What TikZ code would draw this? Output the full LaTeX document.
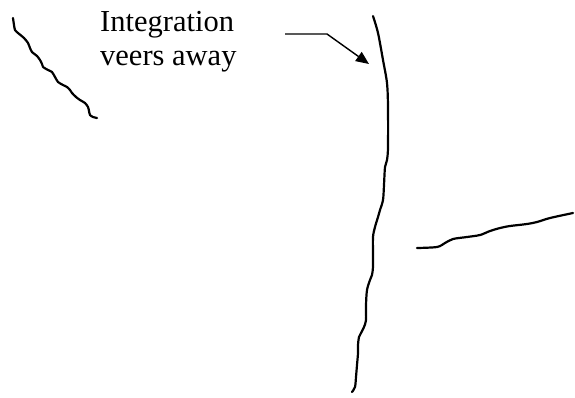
\documentclass[tikz,border=0pt]{standalone}
\usepackage{fontspec}
\setmainfont{Liberation Serif}
\usetikzlibrary{arrows.meta}
\begin{document}
\begin{tikzpicture}[x=1pt,y=-1pt,
  trace/.style={line width=2.2pt,line cap=round,line join=round},
  pointer/.style={line width=1.4pt,-{Triangle[length=13pt,width=11pt]}},
  caption/.style={font=\fontsize{30.5}{34}\selectfont,align=left,inner sep=0pt,anchor=north west}]
\useasboundingbox (0,0) rectangle (575,397);

% wavy stroke, upper left
\draw[trace] plot[smooth,tension=0.4] coordinates {
  (13,18) (14,25) (15,30) (18,33) (24,38) (28,43) (30,48) (32,52) (37,56)
  (40,60) (42,64) (43,67) (48,70) (52,72) (55,77) (58,82) (63,85) (67,87)
  (70,90) (72,93) (76,97) (80,100) (85,103) (88,107) (89,111) (90,115)
  (93,117) (97,118)};

% long vertical stroke
\draw[trace] plot[smooth,tension=0.5] coordinates {
  (373,16) (378,33) (383,60) (387,83) (388,107) (388,147) (387,160) (385,167)
  (384,185) (383,200) (380,210) (378,217) (375,227) (373,237) (373,255)
  (373,267) (372,275) (370,280) (367,290) (366,305) (366,320) (364,327)
  (361,333) (359,337) (358,345) (358,353) (357,365) (356,377) (355,387)
  (352,392)};

% stroke on the right
\draw[trace] plot[smooth,tension=0.5] coordinates {
  (417,248) (437,247) (445,243) (453,239) (467,237) (480,235) (490,231)
  (500,228) (510,226) (527,224) (537,222) (550,218) (573,213)};

% label and its pointer
\node[caption] (label) at (100,11) {Integration\\veers away};
\coordinate (pstart) at (285,34);
\coordinate (pbend) at (327,34);
\coordinate (ptip) at (369,64);
\draw[pointer] (pstart) -- (pbend) -- (ptip);
\end{tikzpicture}
\end{document}
